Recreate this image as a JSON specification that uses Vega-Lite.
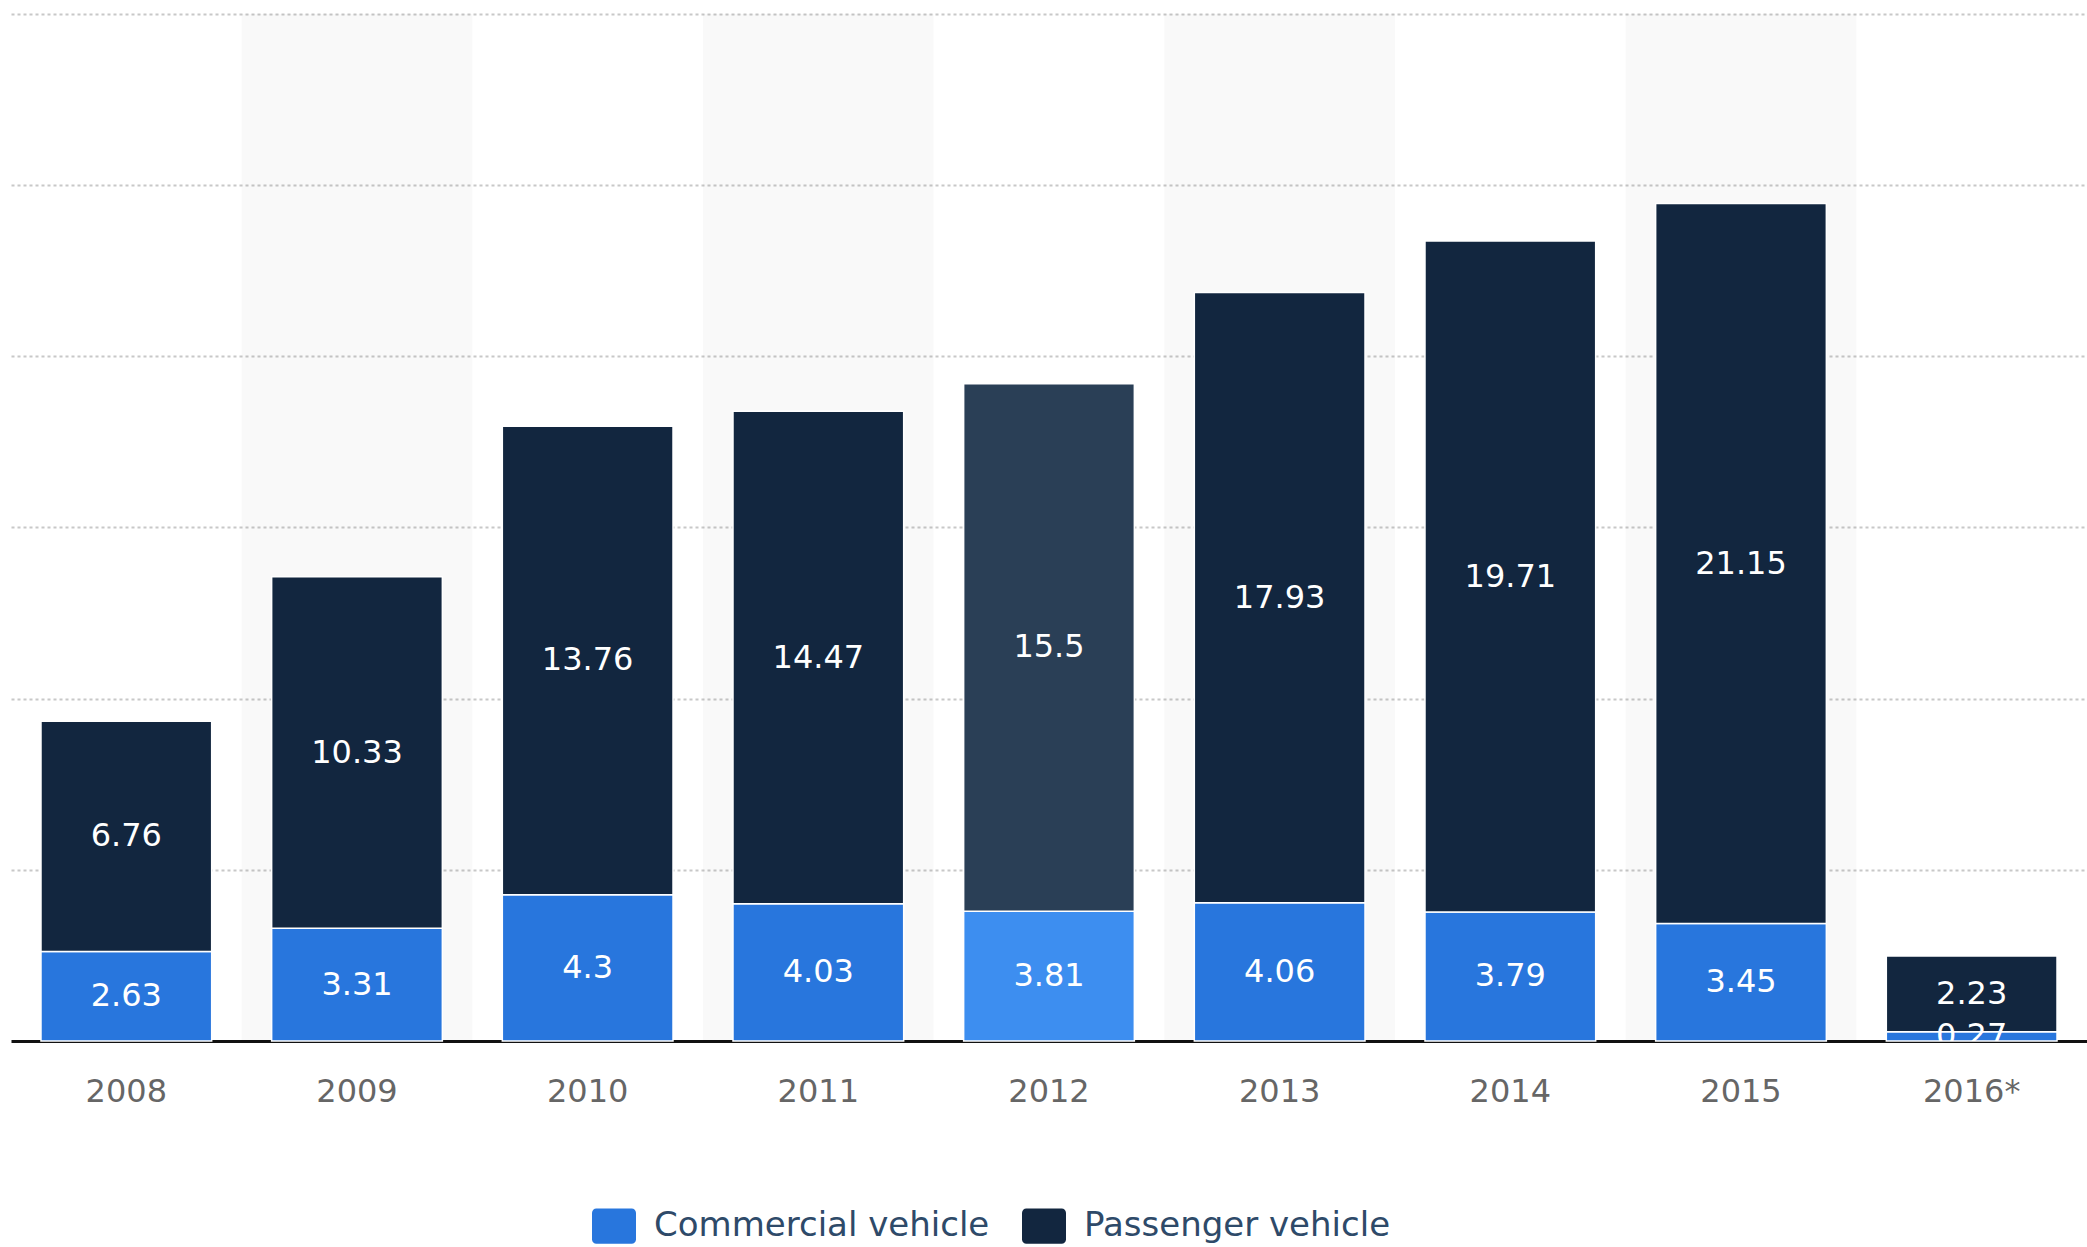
{
  "$schema": "https://vega.github.io/schema/vega-lite/v6.json",
  "width": 2076,
  "height": 1027,
  "autosize": "none",
  "padding": {"left": 11, "top": 14, "right": 0, "bottom": 206},
  "background": "white",
  "config": {"view": {"stroke": null}, "font": "DejaVu Sans"},
  "data": {
    "values": [
      {"year": "2008", "type": "Commercial vehicle", "value": 2.63},
      {"year": "2008", "type": "Passenger vehicle", "value": 6.76},
      {"year": "2009", "type": "Commercial vehicle", "value": 3.31},
      {"year": "2009", "type": "Passenger vehicle", "value": 10.33},
      {"year": "2010", "type": "Commercial vehicle", "value": 4.3},
      {"year": "2010", "type": "Passenger vehicle", "value": 13.76},
      {"year": "2011", "type": "Commercial vehicle", "value": 4.03},
      {"year": "2011", "type": "Passenger vehicle", "value": 14.47},
      {"year": "2012", "type": "Commercial vehicle", "value": 3.81},
      {"year": "2012", "type": "Passenger vehicle", "value": 15.5},
      {"year": "2013", "type": "Commercial vehicle", "value": 4.06},
      {"year": "2013", "type": "Passenger vehicle", "value": 17.93},
      {"year": "2014", "type": "Commercial vehicle", "value": 3.79},
      {"year": "2014", "type": "Passenger vehicle", "value": 19.71},
      {"year": "2015", "type": "Commercial vehicle", "value": 3.45},
      {"year": "2015", "type": "Passenger vehicle", "value": 21.15},
      {"year": "2016*", "type": "Commercial vehicle", "value": 0.27},
      {"year": "2016*", "type": "Passenger vehicle", "value": 2.23}
    ]
  },
  "resolve": {"scale": {"x": "independent"}},
  "layer": [
    {
      "transform": [
        {"filter": {"field": "type", "equal": "Commercial vehicle"}},
        {"filter": {"field": "year", "oneOf": ["2009", "2011", "2013", "2015"]}}
      ],
      "mark": {"type": "rect", "color": "#000000", "opacity": 0.022},
      "encoding": {
        "x": {"field": "year", "type": "nominal",
              "scale": {"domain": ["2008","2009","2010","2011","2012","2013","2014","2015","2016*"], "paddingInner": 0, "paddingOuter": 0},
              "axis": null},
        "y": {"datum": 0, "type": "quantitative", "scale": {"domain": [0, 30.17], "nice": false}},
        "y2": {"datum": 30.17}
      }
    },
    {
      "layer": [
        {
          "mark": {"type": "bar", "stroke": "white", "strokeWidth": 1.5},
          "encoding": {
            "x": {"field": "year", "type": "nominal",
                  "scale": {"domain": ["2008","2009","2010","2011","2012","2013","2014","2015","2016*"], "paddingInner": 0.26, "paddingOuter": 0.13},
                  "axis": {"title": null, "labelAngle": 0, "labelFontSize": 32, "labelColor": "#666666", "labelFont": "DejaVu Sans",
                           "labelPadding": 35, "ticks": false, "domainColor": "#111111", "domainWidth": 3}},
            "y": {"field": "value", "type": "quantitative", "stack": "zero",
                  "scale": {"domain": [0, 30.17], "nice": false},
                  "axis": {"title": null, "labels": false, "ticks": false, "domain": false, "grid": true,
                           "values": [5.03, 10.06, 15.09, 20.12, 25.15, 30.17], "gridDash": [3, 3], "gridColor": "#c8c8c8", "gridWidth": 2}},
            "order": {"field": "type", "sort": "ascending"},
            "color": {
              "field": "type", "type": "nominal",
              "condition": [
                {"test": "datum.year === '2012' && datum.type === 'Commercial vehicle'", "value": "#3d8ef0"},
                {"test": "datum.year === '2012' && datum.type === 'Passenger vehicle'", "value": "#2a3f56"}
              ],
              "scale": {"domain": ["Commercial vehicle", "Passenger vehicle"], "range": ["#2876dd", "#12263f"]},
              "legend": {
                "title": null, "orient": "none", "direction": "horizontal", "legendX": 581, "legendY": 1190,
                "symbolType": "M-0.8,-0.8H0.8A0.2,0.2 0 0 1 1,-0.6V0.6A0.2,0.2 0 0 1 0.8,0.8H-0.8A0.2,0.2 0 0 1 -1,0.6V-0.6A0.2,0.2 0 0 1 -0.8,-0.8Z",
                "symbolSize": 1936, "symbolStrokeWidth": 0, "symbolOpacity": 1,
                "labelFontSize": 34, "labelColor": "#2e4a69", "labelFont": "DejaVu Sans", "labelOffset": 18,
                "columnPadding": 32, "labelLimit": 500
              }
            }
          }
        },
        {
          "transform": [
            {"stack": "value", "groupby": ["year"], "sort": [{"field": "type", "order": "ascending"}], "as": ["v0", "v1"]},
            {"fold": ["v0", "v1"], "as": ["edge", "pos"]},
            {"aggregate": [{"op": "mean", "field": "pos", "as": "mid"}], "groupby": ["year", "type", "value"]}
          ],
          "mark": {"type": "text", "color": "white", "fontSize": 32, "font": "DejaVu Sans", "baseline": "middle", "align": "center", "clip": true},
          "encoding": {
            "x": {"field": "year", "type": "nominal"},
            "y": {"field": "mid", "type": "quantitative"},
            "text": {"field": "value", "type": "quantitative"}
          }
        }
      ]
    }
  ]
}
